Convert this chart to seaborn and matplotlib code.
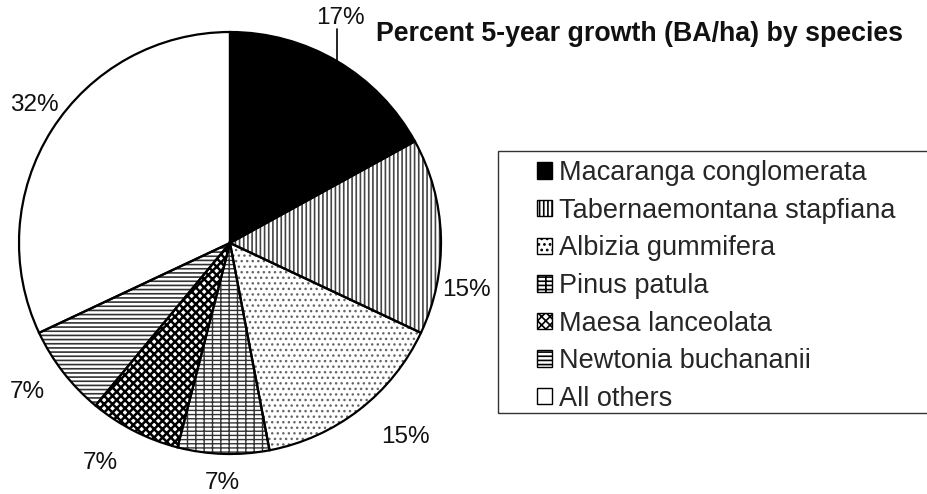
import matplotlib
matplotlib.use("Agg")
import matplotlib.pyplot as plt
import seaborn as sns
from matplotlib.patches import Patch, Rectangle

sns.set_theme(style="white")
plt.rcParams['font.family'] = ['Liberation Sans', 'DejaVu Sans']

species = ["Macaranga conglomerata", "Tabernaemontana stapfiana", "Albizia gummifera",
           "Pinus patula", "Maesa lanceolata", "Newtonia buchananii", "All others"]
percent = [17, 15, 15, 7, 7, 7, 32]
pct_labels = ["17%", "15%", "15%", "7%", "7%", "7%", "32%"]

faces = ["black", "white", "white", "white", "white", "white", "white"]
hatches = [None, "||||", "...", "----||", "xxxx", "----", None]
hatch_cols = ["black", "#444444", "#666666", "#333333", "black", "#333333", "black"]
hatch_lws = [1.0, 1.2, 1.0, 1.0, 1.8, 1.2, 1.0]

W, H = 927, 494
cx, cy, r = 230, 243, 211
fig = plt.figure(figsize=(W / 100, H / 100), dpi=100)
ax = fig.add_axes([(cx - r) / W, (H - cy - r) / H, 2 * r / W, 2 * r / H])

plt.rcParams['hatch.linewidth'] = 1.2
wedges, _ = ax.pie(percent, startangle=90, counterclock=False, colors=faces,
                   wedgeprops=dict(linewidth=0))
for w, h, hc, hl in zip(wedges, hatches, hatch_cols, hatch_lws):
    if h:
        w.set_hatch(h)
        w.set_edgecolor(hc)
        w.set_linewidth(0)
        if hasattr(w, "set_hatch_linewidth"):
            w.set_hatch_linewidth(hl)
# outlines
ax.pie(percent, startangle=90, counterclock=False,
       wedgeprops=dict(facecolor="none", edgecolor="black", linewidth=1.6))

ax.set_xlim(-1, 1)
ax.set_ylim(-1, 1)
ax.set_aspect("equal")
ax.axis("off")

# percent labels (pixel positions of label centres)
label_px = [(340, 18), (466, 290), (405, 437), (222, 483), (100, 463), (27, 392), (34, 105)]
for t, (px, py) in zip(pct_labels, label_px):
    ax.text((px - cx) / r, (cy - py) / r, t, ha="center", va="center",
            fontsize=17.5, color="#111111", clip_on=False)
# leader line for the 17% label
ax.plot([(337 - cx) / r, (337 - cx) / r], [(cy - 29) / r, (cy - 61) / r],
        color="black", lw=1.2, clip_on=False)

fig.text(376 / W, 1 - 41 / H, "Percent 5-year growth (BA/ha) by species",
         fontsize=19.3, fontweight="bold", ha="left", va="baseline", color="#111111")

# legend frame
fig.patches.append(Rectangle((498 / W, 1 - 413 / H), (960 - 498) / W, (413 - 151) / H,
                             transform=fig.transFigure, facecolor="none",
                             edgecolor="#333333", linewidth=1.0, clip_on=False))

handles = [Patch(facecolor=f, edgecolor="black", hatch=h, linewidth=1.0)
           for f, h in zip(faces, hatches)]
leg = fig.legend(handles, species, loc="upper left",
                 bbox_to_anchor=(537 / W, 1 - 160 / H),
                 borderaxespad=0, borderpad=0, fontsize=19.5, frameon=False,
                 handlelength=0.55, handleheight=0.55, handletextpad=0.26,
                 labelspacing=0.43)

fig.savefig("out.png", dpi=100)
